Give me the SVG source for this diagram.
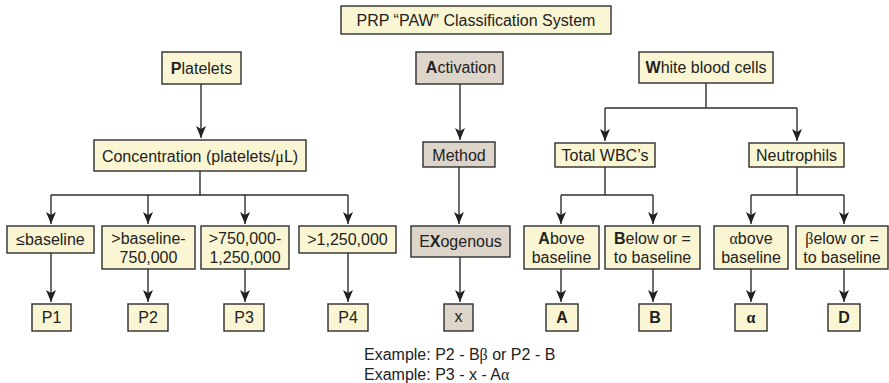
<svg xmlns="http://www.w3.org/2000/svg" width="889" height="383" viewBox="0 0 889 383">
<defs>
<style>
.y{fill:#faf6d3;stroke:#2e2e2e;stroke-width:1.4}
.g{fill:#ddd5c9;stroke:#2e2e2e;stroke-width:1.4}
text{font-family:"Liberation Sans",Arial,sans-serif;font-size:16px;fill:#222;text-anchor:middle}
.b{font-weight:bold}
.s{font-family:"Liberation Serif","Times New Roman",serif}
.c{fill:none;stroke:#2e2e2e;stroke-width:1.4}
.a{marker-end:url(#ah)}
</style>
<marker id="ah" viewBox="0 0 12 10" refX="12" refY="5" markerWidth="13" markerHeight="10" markerUnits="userSpaceOnUse" orient="auto">
<path d="M0,0 L12,5 L0,10 L3,5 z" fill="#222"/>
</marker>
</defs>
<g id="connectors" class="c">
<path class="a" d="M201,84 V138"/>
<path d="M200,171 V195 M51,195 H348"/>
<path class="a" d="M51,195 V224"/>
<path class="a" d="M148,195 V224"/>
<path class="a" d="M245,195 V224"/>
<path class="a" d="M348,195 V224"/>
<path class="a" d="M51,253 V302"/>
<path class="a" d="M148,269 V302"/>
<path class="a" d="M245,269 V302"/>
<path class="a" d="M348,253 V302"/>
<path class="a" d="M460,84 V140"/>
<path class="a" d="M459,167 V224"/>
<path class="a" d="M460,257 V302"/>
<path d="M706,83 V108 M605,108 H797"/>
<path class="a" d="M605,108 V141"/>
<path class="a" d="M797,108 V141"/>
<path d="M605,167 V195 M561,195 H653"/>
<path class="a" d="M561,195 V224"/>
<path class="a" d="M653,195 V224"/>
<path d="M797,167 V195 M751,195 H844"/>
<path class="a" d="M751,195 V224"/>
<path class="a" d="M844,195 V224"/>
<path class="a" d="M561,269 V302"/>
<path class="a" d="M653,269 V302"/>
<path class="a" d="M751,269 V302"/>
<path class="a" d="M844,269 V302"/>
</g>
<g id="title"><rect class="y" x="341" y="6" width="270" height="28"/><text x="476" y="25.5">PRP “PAW” Classification System</text></g>
<g id="platelets"><rect class="y" x="162" y="52" width="79" height="32"/><text x="201.5" y="73.5"><tspan class="b">P</tspan>latelets</text></g>
<g id="concentration"><rect class="y" x="94" y="140" width="212" height="31"/><text x="200" y="161.5">Concentration (platelets/<tspan class="s">μ</tspan>L)</text></g>
<g id="c1"><rect class="y" x="7" y="226" width="87" height="27"/><text x="50.5" y="245">≤baseline</text></g>
<g id="c2"><rect class="y" x="102" y="226" width="93" height="43"/><text x="148.5" y="243.5">&gt;baseline-</text><text x="148.5" y="262.5">750,000</text></g>
<g id="c3"><rect class="y" x="201" y="226" width="88" height="43"/><text x="245" y="243.5">&gt;750,000-</text><text x="245" y="262.5">1,250,000</text></g>
<g id="c4"><rect class="y" x="299" y="226" width="97" height="27"/><text x="347.5" y="245">&gt;1,250,000</text></g>
<g id="p1"><rect class="y" x="32" y="304" width="39" height="27"/><text x="51.5" y="323">P1</text></g>
<g id="p2"><rect class="y" x="128" y="304" width="40" height="27"/><text x="148" y="323">P2</text></g>
<g id="p3"><rect class="y" x="224" y="304" width="40" height="27"/><text x="244" y="323">P3</text></g>
<g id="p4"><rect class="y" x="328" y="304" width="40" height="27"/><text x="348" y="323">P4</text></g>
<g id="activation"><rect class="g" x="416" y="52" width="87" height="32"/><text x="461" y="73"><tspan class="b">A</tspan>ctivation</text></g>
<g id="method"><rect class="g" x="423" y="142" width="72" height="25"/><text x="459" y="160.5">Method</text></g>
<g id="exogenous"><rect class="g" x="411" y="226" width="99" height="31"/><text x="460.5" y="247">E<tspan class="b">X</tspan>ogenous</text></g>
<g id="x"><rect class="g" x="444" y="304" width="29" height="27"/><text x="458.5" y="322">x</text></g>
<g id="wbc"><rect class="y" x="639" y="52" width="134" height="31"/><text x="706" y="73"><tspan class="b">W</tspan>hite blood cells</text></g>
<g id="total"><rect class="y" x="555" y="143" width="100" height="24"/><text x="605" y="160.5">Total WBC’s</text></g>
<g id="neutrophils"><rect class="y" x="749" y="143" width="95" height="24"/><text x="796.5" y="160.5">Neutrophils</text></g>
<g id="above"><rect class="y" x="524" y="226" width="75" height="43"/><text x="561.5" y="243.5"><tspan class="b">A</tspan>bove</text><text x="561.5" y="262.5">baseline</text></g>
<g id="below"><rect class="y" x="605" y="226" width="95" height="43"/><text x="652.5" y="243.5"><tspan class="b">B</tspan>elow or =</text><text x="652.5" y="262.5">to baseline</text></g>
<g id="alphabove"><rect class="y" x="714" y="226" width="74" height="43"/><text x="751" y="244"><tspan class="s">α</tspan>bove</text><text x="751" y="263">baseline</text></g>
<g id="betabelow"><rect class="y" x="796" y="226" width="92" height="43"/><text x="842" y="244"><tspan class="s">β</tspan>elow or =</text><text x="842" y="263">to baseline</text></g>
<g id="A"><rect class="y" x="546" y="304" width="32" height="27"/><text class="b" x="562" y="323">A</text></g>
<g id="B"><rect class="y" x="639" y="304" width="32" height="27"/><text class="b" x="655" y="323">B</text></g>
<g id="alpha"><rect class="y" x="735" y="304" width="32" height="27"/><text class="b s" x="751" y="323">α</text></g>
<g id="D"><rect class="y" x="828" y="304" width="32" height="27"/><text class="b" x="844" y="323">D</text></g>
<g id="example"><text x="364" y="359.5" style="text-anchor:start">Example: P2 - B<tspan class="s">β</tspan> or P2 - B</text><text x="364" y="379.5" style="text-anchor:start">Example: P3 - x - A<tspan class="s">α</tspan></text></g>
</svg>
